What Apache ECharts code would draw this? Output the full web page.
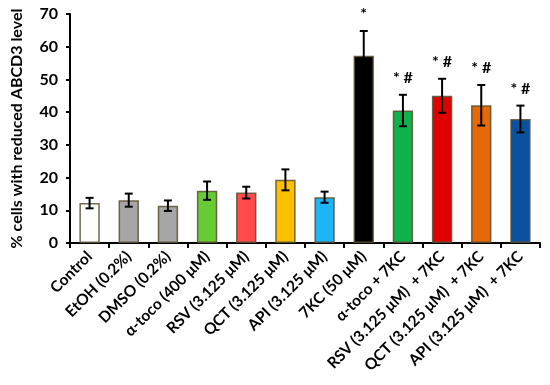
<!DOCTYPE html>
<html><head><meta charset="utf-8">
<script src="https://cdn.jsdelivr.net/npm/echarts@6/dist/echarts.min.js"></script>
<style>html,body{margin:0;padding:0;background:#fff}#c{width:550px;height:385px}</style>
</head><body><div id="c"></div>
<script>
const categories = ['Control','EtOH (0.2%)','DMSO (0.2%)','α-toco (400 μM)','RSV (3.125 μM)','QCT (3.125 μM)','API (3.125 μM)','7KC (50 μM)','α-toco + 7KC','RSV (3.125 μM)  + 7KC','QCT (3.125 μM)  + 7KC','API (3.125 μM)  + 7KC'];
const values = [12.2, 13.1, 11.4, 16.0, 15.4, 19.3, 14.0, 57.2, 40.5, 45.0, 42.1, 37.9];
const errors = [1.6, 2.0, 1.6, 2.8, 1.8, 3.2, 1.7, 7.6, 4.8, 5.2, 6.2, 4.1];
const marks = ['', '', '', '', '', '', '', '*', '* #', '* #', '* #', '* #'];
const colors = ['#ffffff','#a6a6a6','#a6a6a6','#66cc33','#ff4b4b','#ffc000','#1eb4f5','#000000','#10b04a','#e00000','#e46a08','#0a52a0'];
const yTicks = [0,10,20,30,40,50,60,70];
const yTitle = '% cells with reduced ABCD3 level';

const chart = echarts.init(document.getElementById('c'), null, {renderer:'canvas'});
const font = 'Lato, "Open Sans", sans-serif';
chart.setOption({
  animation:false,
  grid:{left:70, right:10, top:14, bottom:142},
  xAxis:{type:'category', data:categories,
    axisLine:{lineStyle:{color:'#000', width:2}},
    axisTick:{show:true, length:5, lineStyle:{color:'#000', width:2}},
    axisLabel:{rotate:45, interval:0, color:'#000', fontWeight:'bold', fontSize:15.5, fontFamily:font, margin:11}
  },
  yAxis:{type:'value', min:yTicks[0], max:yTicks[yTicks.length-1], interval:10,
    name:yTitle, nameLocation:'middle', nameGap:45, nameTextStyle:{color:'#000', fontWeight:'bold', fontSize:16, fontFamily:font},
    splitLine:{show:false},
    axisLine:{show:true, lineStyle:{color:'#000', width:2}},
    axisTick:{show:true, length:4, lineStyle:{color:'#000', width:2}},
    axisLabel:{color:'#000', fontWeight:'bold', fontSize:16, fontFamily:font, margin:12}
  },
  series:[
    {type:'bar', barWidth:'52%', data: values.map((v,i)=>({value:v, itemStyle:{color:colors[i]}})),
     itemStyle:{borderColor:'rgba(90,80,50,0.85)', borderWidth:1.5}},
    {type:'custom', renderItem:(params, api)=>{
        const i = api.value(0), v = api.value(1), e = api.value(2);
        const top = api.coord([i, v+e]), bot = api.coord([i, v-e]);
        const w = 4;
        const st = {stroke:'#000', lineWidth:2};
        const children = [
          {type:'line', shape:{x1:top[0], y1:top[1], x2:bot[0], y2:bot[1]}, style:st},
          {type:'line', shape:{x1:top[0]-w, y1:top[1], x2:top[0]+w, y2:top[1]}, style:st},
          {type:'line', shape:{x1:bot[0]-w, y1:bot[1], x2:bot[0]+w, y2:bot[1]}, style:st}
        ];
        const m = marks[i];
        if (m) children.push({type:'text', style:{text:m, x:top[0], y:top[1]-9, align:'center', verticalAlign:'bottom', fill:'#000', font:'bold 16px ' + font}});
        return {type:'group', children};
      },
      data: values.map((v,i)=>[i, v, errors[i]]), z:10}
  ]
});
</script></body></html>
